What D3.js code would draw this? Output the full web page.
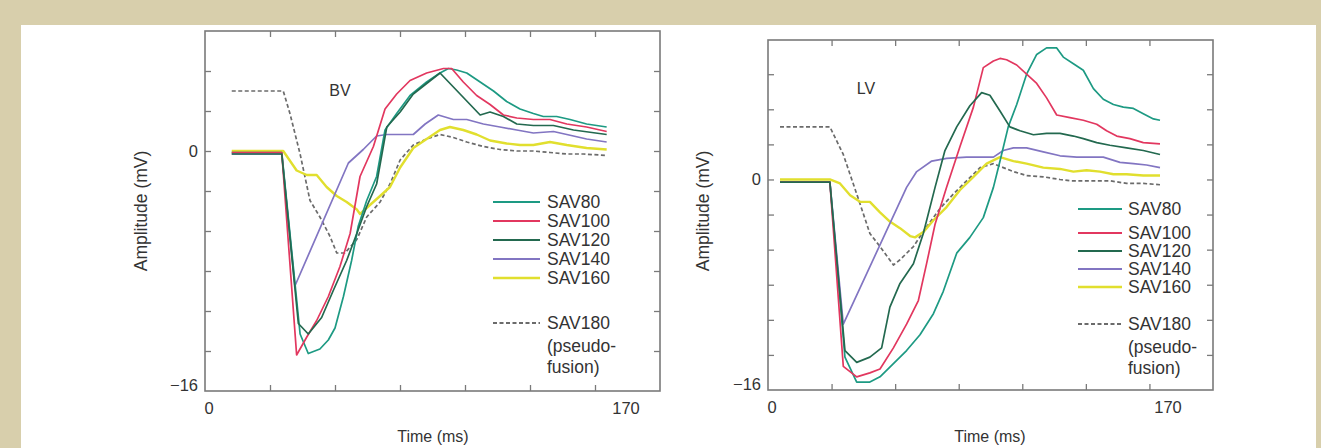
<!DOCTYPE html>
<html>
<head>
<meta charset="utf-8">
<script src="https://cdn.jsdelivr.net/npm/d3@7"></script>
<style>
  body { margin: 0; background: #fff; }
  svg text { font-family: "Liberation Sans", Arial, Helvetica, sans-serif; fill: #333; }
</style>
</head>
<body>
<div id="chart"></div>
<script>

// series labels and colours (same order as the data arrays of each panel)
var seriesNames  = ["SAV80", "SAV100", "SAV120", "SAV140", "SAV160", "SAV180"];
var seriesColors = ["#1d9a83", "#e2375f", "#23694f", "#8275c2", "#e1df2e", "#6b6b6b"];
var yTickLabels = [0, -16];
var xTickLabels = [0, 170];

// BV panel: [time ms, amplitude mV]
var bvSav80 = [[10.8,-0.1],[31,-0.1],[38.4,-12.2],[41.7,-13.5],[46.4,-13.2],[49.8,-12.6],[52.5,-11.8],[55.9,-9.7],[59.2,-7.3],[61.9,-5],[65.3,-3.3],[69.3,-1.7],[72.7,1.4],[77.4,2.5],[82.8,3.7],[89.5,4.6],[94.9,5.2],[98.3,5.5],[101.6,5.4],[105.7,5.2],[111.1,4.6],[116.5,4],[121.8,3.3],[127.2,2.8],[132.6,2.5],[136.6,2.3],[142,2.3],[147.4,2.1],[154.1,1.8],[162.2,1.6]];
var bvSav100 = [[10.8,-0.1],[31,-0.1],[37,-13.6],[41.1,-12.4],[45.1,-11.3],[49.8,-9.7],[54.5,-7.7],[58.6,-5.5],[62.6,-1.7],[68,0.3],[72.7,2.8],[77.4,3.8],[82.8,4.7],[89.5,5.2],[96.3,5.5],[99.6,5.5],[104.3,4.6],[109.7,3.7],[115.1,3.1],[120.5,2.4],[125.9,2.2],[132.6,2.1],[139.3,2.1],[146.1,1.8],[154.1,1.6],[162.2,1.3]];
var bvSav120 = [[10.8,-0.2],[31,-0.2],[37.7,-11.5],[41.7,-12.2],[47.1,-11.1],[51.8,-9.3],[57.2,-7.3],[61.3,-5.5],[65.3,-3.7],[69.3,-2.2],[73.4,1.6],[78.8,2.6],[84.1,3.8],[89.5,4.5],[94.9,5.2],[103,3.8],[111.1,2.4],[115.1,2.6],[120.5,2.3],[125.9,1.8],[132.6,1.7],[140.7,1.7],[148.8,1.4],[162.2,1.1]];
var bvSav140 = [[10.8,-0.2],[31,-0.2],[36.3,-9],[57.9,-0.8],[63.9,0.1],[69.3,1],[73.4,1.1],[84.1,1.1],[88.9,1.8],[94.2,2.4],[100.3,2.1],[105.7,2.1],[112.4,1.8],[119.1,1.6],[125.9,1.4],[132.6,1.2],[140.7,1.3],[146.1,1.1],[154.1,0.8],[162.2,0.6]];
var bvSav160 = [[10.8,0],[31.6,0],[37,-1.3],[41.1,-1.6],[45.1,-1.6],[49.1,-2.4],[53.2,-3],[57.2,-3.4],[61.3,-3.9],[62.6,-4.2],[66.6,-3.6],[70.7,-3],[74.7,-2.4],[78.8,-1.1],[84.1,0.2],[89.5,0.8],[94.9,1.4],[98.9,1.6],[104.3,1.4],[109.7,1.1],[115.1,0.7],[121.8,0.5],[127.2,0.4],[132.6,0.4],[139.3,0.6],[146.1,0.4],[154.1,0.2],[162.2,0.1]];
var bvSav180 = [[10.8,4],[31.6,4],[34.3,2.5],[38.4,-0.2],[42.4,-3.3],[46.4,-4.4],[50.5,-5.7],[53.2,-6.8],[56.5,-6.8],[61.3,-5.9],[65.3,-4.4],[70.7,-3.4],[74.7,-2.2],[78.8,-0.6],[84.1,0.4],[89.5,0.8],[94.9,1.1],[100.3,0.9],[105.7,0.6],[112.4,0.3],[119.1,0.1],[125.9,0],[132.6,0],[139.3,-0.1],[146.1,-0.2],[152.8,-0.2],[162.2,-0.3]];

// LV panel: [time ms, amplitude mV]
var lvSav80 = [[5.1,-0.2],[26.3,-0.2],[32.7,-13.5],[37.7,-15.4],[43.3,-15.4],[47.6,-15],[53.3,-14],[58.9,-13],[64.6,-11.8],[70.3,-10.2],[74.5,-8.5],[80.2,-5.6],[85.8,-4.4],[91.5,-2.9],[95.8,-0.6],[98.6,1.4],[102.1,4],[105.7,5.7],[109.9,8],[114.2,9.5],[118.4,10],[122.7,10],[125.5,9.3],[129.8,8.8],[134,8.3],[138.3,6.9],[142.5,6.1],[146.8,5.7],[151,5.5],[155.3,5.4],[159.5,5],[163.8,4.6],[166.6,4.5]];
var lvSav100 = [[5.1,-0.2],[26.3,-0.2],[32,-14.2],[37.7,-15],[43.3,-14.7],[47.6,-14.4],[53.3,-12.8],[58.9,-11],[63.9,-9.2],[67.4,-6.4],[71,-3.4],[75.9,-0.6],[81.6,2.5],[87.3,5.5],[91.5,8.5],[95.8,9],[98.6,9.2],[101.4,9.1],[105.7,8.7],[109.9,8],[114.2,7.3],[118.4,6.2],[122.7,4.9],[128.3,4.7],[134,4.5],[139.7,4.2],[143.9,3.7],[148.2,3.3],[153.8,3.1],[159.5,2.8],[166.6,2.7]];
var lvSav120 = [[5.1,-0.2],[26.3,-0.2],[32.7,-13],[37.7,-13.9],[43.3,-13.5],[48.3,-12.8],[51.8,-9.7],[56.1,-7.9],[61.8,-6.4],[66,-4.1],[71,-0.6],[75.2,2.2],[80.2,4],[85.8,5.6],[90.8,6.6],[94.3,6.4],[98.6,5.2],[102.8,4],[107.1,3.7],[112.8,3.4],[118.4,3.5],[124.1,3.5],[129.8,3.3],[134,3.1],[139.7,2.8],[145.3,2.6],[152.4,2.4],[159.5,2.2],[166.6,1.9]];
var lvSav140 = [[5.1,-0.2],[26.3,-0.2],[32,-11],[58.9,-0.6],[63.2,0.6],[69.6,1.4],[75.9,1.6],[84.4,1.7],[90.1,1.7],[95.8,1.7],[100,2.2],[104.3,2.4],[109.9,2.4],[117,2.1],[124.1,1.8],[131.2,1.7],[138.3,1.7],[142.5,1.7],[149.6,1.3],[155.3,1.2],[160.9,1.1],[166.6,0.9]];
var lvSav160 = [[5.1,0],[26.3,0],[30.6,-0.3],[34.9,-1.2],[39.1,-1.7],[43.3,-1.7],[47.6,-2.5],[51.8,-3.2],[56.1,-3.7],[60.4,-4.3],[62.5,-4.4],[66,-4],[70.3,-3.1],[75.9,-2.1],[81.6,-0.8],[87.3,0.2],[92.9,1.2],[98.6,1.7],[104.3,1.4],[109.9,1.2],[117,0.9],[124.1,0.8],[129.8,0.6],[135.4,0.7],[141.1,0.6],[146.8,0.4],[152.4,0.4],[159.5,0.3],[166.6,0.3]];
var lvSav180 = [[5.1,4],[26.3,4],[32,1.9],[37.7,-1.1],[43.3,-4.1],[47.6,-5.1],[53.3,-6.5],[56.1,-6.1],[61.8,-5.1],[67.4,-3.6],[73.1,-2.2],[78.8,-1.1],[84.4,-0.1],[90.1,0.9],[95.8,1.2],[100,0.9],[104.3,0.6],[109.9,0.3],[117,0.2],[124.1,0],[128.3,-0.1],[135.4,-0.1],[145.3,-0.1],[152.4,-0.3],[159.5,-0.3],[166.6,-0.4]];

var W = 1321, H = 448;
var svg = d3.select("#chart").append("svg")
    .attr("width", W).attr("height", H);

// beige frame round the white card
svg.append("rect").attr("width", W).attr("height", H).attr("fill", "#d8cfac");
svg.append("rect").attr("x", 21).attr("y", 25).attr("width", 1295).attr("height", H - 25).attr("fill", "#fff");

var panels = [
  { name: "BV", data: [bvSav80, bvSav100, bvSav120, bvSav140, bvSav160, bvSav180],
    box: [205, 31, 660, 391], x170: 626, yDomain: [-16, 8],
    namePos: [340, 96], yTitle: [147, 211], xTitle: [433, 442],
    legX: 493, legLen: 47, legRows: [202, 221, 240, 259, 278, 323], legGap: 7 },
  { name: "LV", data: [lvSav80, lvSav100, lvSav120, lvSav140, lvSav160, lvSav180],
    box: [768, 40, 1213, 390], x170: 1168, yDomain: [-16, 10.6],
    namePos: [866, 94], yTitle: [709, 211], xTitle: [990, 442],
    legX: 1078, legLen: 44, legRows: [209, 233, 251, 269, 287, 324], legGap: 6 }
];

panels.forEach(function(p) {
  var x0 = p.box[0], y0 = p.box[1], x1 = p.box[2], y1 = p.box[3];

  var x = d3.scaleLinear().domain([0, 170]).range([x0, p.x170]);
  var y = d3.scaleLinear().domain(p.yDomain).range([y1, y0]);

  // frame ticks: 7 divisions across, 8/3 mV steps up
  var fx = d3.scaleLinear().domain([0, 7]).range([x0, x1]);
  var yTicks = d3.range(-16 + 8 / 3, p.yDomain[1] - 0.5, 8 / 3);
  var xTicks = d3.range(1, 7);

  var g = svg.append("g");

  var tickStyle = function(sel) {
    sel.select(".domain").remove();
    sel.selectAll("line").attr("stroke", "#7a7a7a").attr("stroke-width", 1.3);
  };
  g.append("g").attr("transform", "translate(" + x0 + ",0)")
    .call(d3.axisLeft(y).tickValues(yTicks).tickSize(-6).tickFormat("")).call(tickStyle);
  g.append("g").attr("transform", "translate(" + x1 + ",0)")
    .call(d3.axisRight(y).tickValues(yTicks).tickSize(-6).tickFormat("")).call(tickStyle);
  g.append("g").attr("transform", "translate(0," + y1 + ")")
    .call(d3.axisBottom(fx).tickValues(xTicks).tickSize(-6).tickFormat("")).call(tickStyle);
  g.append("g").attr("transform", "translate(0," + y0 + ")")
    .call(d3.axisTop(fx).tickValues(xTicks).tickSize(-6).tickFormat("")).call(tickStyle);

  g.append("rect")
    .attr("x", x0).attr("y", y0).attr("width", x1 - x0).attr("height", y1 - y0)
    .attr("fill", "none").attr("stroke", "#7a7a7a").attr("stroke-width", 1.6);

  // tick labels
  g.selectAll(".ylab").data(yTickLabels).enter().append("text")
    .attr("x", x0 - 7)
    .attr("y", function(d) { return y(d) + (d === -16 ? 0 : 6); })
    .attr("text-anchor", "end").attr("font-size", 16.5)
    .text(function(d) { return d < 0 ? "\u2212" + Math.abs(d) : d; });
  g.selectAll(".xlab").data(xTickLabels).enter().append("text")
    .attr("x", function(d) { return x(d) + (d === 0 ? 4 : 0); })
    .attr("y", y1 + 23)
    .attr("text-anchor", "middle").attr("font-size", 16.5)
    .text(function(d) { return d; });

  // axis titles
  g.append("text")
    .attr("transform", "translate(" + p.yTitle[0] + "," + p.yTitle[1] + ") rotate(-90)")
    .attr("text-anchor", "middle").attr("font-size", 17.5)
    .text("Amplitude (mV)");
  g.append("text")
    .attr("x", p.xTitle[0]).attr("y", p.xTitle[1])
    .attr("text-anchor", "middle").attr("font-size", 16)
    .text("Time (ms)");

  g.append("text")
    .attr("x", p.namePos[0]).attr("y", p.namePos[1])
    .attr("text-anchor", "middle").attr("font-size", 16)
    .text(p.name);

  // curves
  var line = d3.line()
    .x(function(d) { return x(d[0]); })
    .y(function(d) { return y(d[1]); });

  var order = [5, 4, 3, 0, 1, 2];
  order.forEach(function(i) {
    g.append("path")
      .datum(p.data[i])
      .attr("d", line)
      .attr("fill", "none")
      .attr("stroke", seriesColors[i])
      .attr("stroke-width", i === 4 ? 2.4 : 1.7)
      .attr("stroke-dasharray", i === 5 ? "4,2.5" : null)
      .attr("stroke-linejoin", "round");
  });

  // legend
  var leg = g.append("g");
  seriesNames.forEach(function(name, i) {
    var ly = p.legRows[i];
    leg.append("line")
      .attr("x1", p.legX).attr("x2", p.legX + p.legLen)
      .attr("y1", ly).attr("y2", ly)
      .attr("stroke", seriesColors[i])
      .attr("stroke-width", i === 4 ? 2.6 : 2)
      .attr("stroke-dasharray", i === 5 ? "4,2.5" : null);
    leg.append("text")
      .attr("x", p.legX + p.legLen + p.legGap).attr("y", ly + 6)
      .attr("font-size", 17.5)
      .text(name);
  });
  leg.append("text")
    .attr("x", p.legX + p.legLen + p.legGap).attr("y", p.legRows[5] + 29)
    .attr("font-size", 17.5).text("(pseudo-");
  leg.append("text")
    .attr("x", p.legX + p.legLen + p.legGap).attr("y", p.legRows[5] + 50)
    .attr("font-size", 17.5).text("fusion)");
});
</script>
</body>
</html>
